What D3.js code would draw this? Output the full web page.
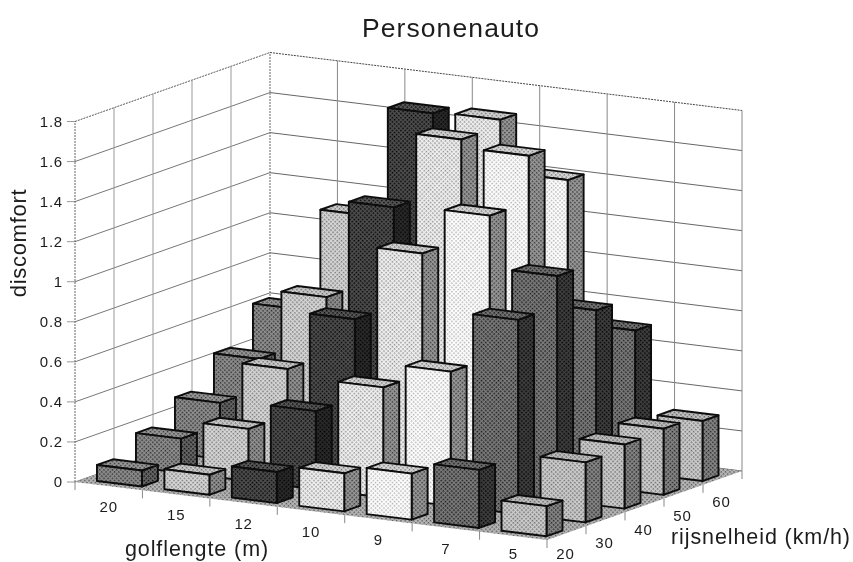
<!DOCTYPE html>
<html>
<script src="https://d3js.org/d3.v7.min.js"></script>
<body style="margin:0;background:#fff">
<svg id="canvas" width="853" height="562" style="display:block"></svg>

<script>
    // golflengte (m) along the front edge, rijsnelheid (km/h) going back
    const golflengte = ["20", "15", "12", "10", "9", "7", "5"];
    const snelheid = ["20", "30", "40", "50", "60"];
    const yTicks = [0, 0.2, 0.4, 0.6, 0.8, 1, 1.2, 1.4, 1.6, 1.8];

    // discomfort per speed, one value per wave length
    const v20 = [0.08, 0.10, 0.155, 0.19, 0.23, 0.29, 0.15];
    const v30 = [0.17, 0.26, 0.39, 0.55, 0.67, 0.97, 0.30];
    const v40 = [0.28, 0.49, 0.78, 1.15, 1.38, 1.12, 0.32];
    const v50 = [0.43, 0.78, 1.27, 1.65, 1.61, 0.88, 0.33];
    const v60 = [0.61, 1.12, 1.67, 1.68, 1.42, 0.71, 0.30];
    const rows = [v20, v30, v40, v50, v60];

    // grey per wave length: [front, side, top]
    const shades = [
        ["#767676", "#505050", "#808080"],
        ["#bebebe", "#7a7a7a", "#b4b4b4"],
        ["#363636", "#121212", "#424242"],
        ["#d8d8d8", "#808080", "#bcbcbc"],
        ["#f8f8f8", "#808080", "#c0c0c0"],
        ["#626262", "#262626", "#5c5c5c"],
        ["#b4b4b4", "#6e6e6e", "#a8a8a8"]
    ];

    const svg = d3.select("#canvas");
    const defs = svg.append("defs");
    defs.append("filter").attr("id", "scan")
        .attr("x", 0).attr("y", 0)
        .attr("filterUnits", "userSpaceOnUse")
        .attr("width", 853).attr("height", 562)
        .append("feGaussianBlur").attr("stdDeviation", 0.4);
    const g = svg.append("g").attr("filter", "url(#scan)");

    // oblique projection of the box: u along golflengte, v along snelheid
    const origin = [75, 482];
    const uX = d3.scaleLinear().domain([0, 7]).range([0, 472]);
    const uY = d3.scaleLinear().domain([0, 7]).range([0, 58]);
    const vX = d3.scaleLinear().domain([0, 5]).range([0, 195]);
    const vY = d3.scaleLinear().domain([0, 5]).range([0, -69]);
    const zY = d3.scaleLinear().domain([0, 1.8]).range([0, -360.5]);

    const proj = (u, v, z) => [
        origin[0] + uX(u) + vX(v),
        origin[1] + uY(u) + vY(v) + zY(z)
    ];
    const line = d3.line();
    const poly = pts => line(pts) + "Z";

    // halftone look of the scan: small dot screen around the wanted grey
    function screen(grey) {
        const id = "s" + grey.slice(1);
        if (!defs.select("#" + id).empty()) return "url(#" + id + ")";
        const c = d3.rgb(grey).r;
        const lo = Math.max(0, c - 75), hi = Math.min(255, c + 25);
        const p = defs.append("pattern").attr("id", id)
            .attr("width", 3).attr("height", 3)
            .attr("patternUnits", "userSpaceOnUse")
            .attr("patternTransform", "rotate(45)");
        p.append("rect").attr("width", 3).attr("height", 3).attr("fill", d3.rgb(hi, hi, hi));
        p.append("rect").attr("width", 1.5).attr("height", 1.5).attr("fill", d3.rgb(lo, lo, lo));
        return "url(#" + id + ")";
    }

    // walls
    const drawLine = (a, b, color, w, dash) => g.append("path")
        .attr("d", line([a, b]))
        .attr("stroke", color).attr("stroke-width", w).attr("fill", "none")
        .attr("stroke-dasharray", dash || null);

    yTicks.forEach(t => {
        const top = t === 1.8;
        drawLine(proj(0, 0, t), proj(0, 5, t), top ? "#555" : "#777", 1, top ? "2 1" : null);
        drawLine(proj(0, 5, t), proj(7, 5, t), top ? "#444" : "#666", 1, top ? "2 1" : null);
        drawLine(proj(0, 0, t), [proj(0, 0, t)[0] - 8, proj(0, 0, t)[1]], "#999", 1);
    });
    d3.range(0, 6).forEach(j => {
        const edge = j === 0 || j === 5;
        drawLine(proj(0, j, 0), proj(0, j, 1.8), edge ? "#666" : "#999", 1, edge ? "2 1" : null);
    });
    d3.range(1, 8).forEach(i => {
        drawLine(proj(i, 5, 0), proj(i, 5, 1.8), "#888", 1);
    });

    // floor
    g.append("path")
        .attr("d", poly([proj(0, 0, 0), proj(7, 0, 0), proj(7, 5, 0), proj(0, 5, 0)]))
        .attr("fill", screen("#a0a0a0"));

    // ticks on the front edges
    d3.range(0, 8).forEach(i => {
        const p = proj(i, 0, 0);
        drawLine(p, [p[0], p[1] + 8], "#888", 1);
    });
    d3.range(1, 6).forEach(j => {
        const p = proj(7, j, 0);
        drawLine(p, [p[0], p[1] + 8], "#888", 1);
    });

    // bars, back row first
    const uStart = 0.21, uSize = 0.667, vStart = 0.2, vSize = 0.41;
    d3.range(snelheid.length - 1, -1, -1).forEach(j => {
        golflengte.forEach((name, i) => {
            const z = rows[j][i];
            const u0 = i + uStart, u1 = u0 + uSize, a = j + vStart, b = a + vSize;
            const s = shades[i];
            const bar = g.append("g")
                .attr("stroke", "#0c0c0c").attr("stroke-width", 1.9).attr("stroke-linejoin", "round");
            bar.append("path").attr("fill", screen(s[1]))
                .attr("d", poly([proj(u1, a, 0), proj(u1, b, 0), proj(u1, b, z), proj(u1, a, z)]));
            bar.append("path").attr("fill", screen(s[2]))
                .attr("d", poly([proj(u0, a, z), proj(u1, a, z), proj(u1, b, z), proj(u0, b, z)]));
            bar.append("path").attr("fill", screen(s[0]))
                .attr("d", poly([proj(u0, a, 0), proj(u1, a, 0), proj(u1, a, z), proj(u0, a, z)]));
        });
    });

    // text
    const font = "'Liberation Sans', Arial, sans-serif";
    const label = (x, y, txt, size, anchor) => g.append("text")
        .attr("x", x).attr("y", y).text(txt)
        .attr("font-family", font).attr("font-size", size)
        .attr("fill", "#1c1c1c").attr("text-anchor", anchor || "middle");

    // last labels sit right at the bottom of the page, keep them inside
    const maxBase = 558.5;

    yTicks.forEach(t => {
        const p = proj(0, 0, t);
        label(p[0] - 12, p[1] + 5, String(t), 15, "end").attr("letter-spacing", 0.8);
    });
    golflengte.forEach((name, i) => {
        const p = proj(i + 0.5, 0, 0);
        label(p[0], Math.min(p[1] + 26, maxBase), name, 15).attr("letter-spacing", 0.8);
    });
    snelheid.forEach((name, j) => {
        const p = proj(7, j + 0.5, 0);
        label(p[0] - 1, Math.min(p[1] + 29, maxBase), name, 15).attr("letter-spacing", 0.8);
    });

    label(451, 37, "Personenauto", 26.5).attr("letter-spacing", 1.1);
    label(197, 556, "golflengte (m)", 21.5).attr("letter-spacing", 0.9);
    label(761, 544, "rijsnelheid (km/h)", 21.5).attr("letter-spacing", 0.9);
    label(0, 0, "discomfort", 22)
        .attr("letter-spacing", 0.7)
        .attr("transform", "translate(26,243) rotate(-90)");
</script>

</body>
</html>
